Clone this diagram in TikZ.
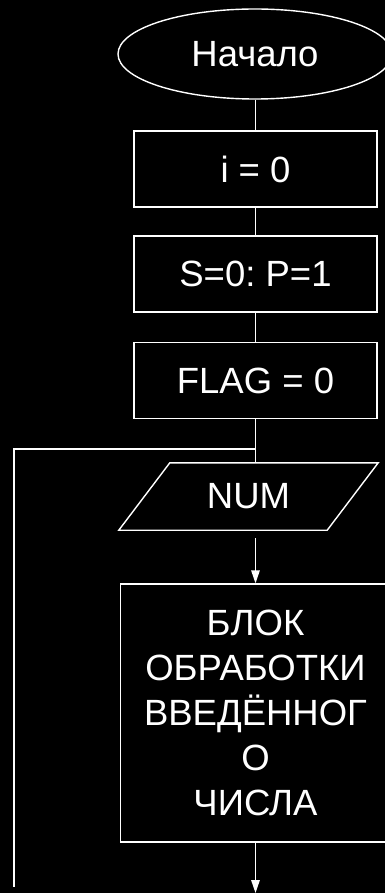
\documentclass[tikz,border=0pt]{standalone}
\usepackage{fontspec}
\setmainfont{Liberation Sans}
\usetikzlibrary{shapes.geometric,arrows.meta}
\frenchspacing
\begin{document}
\begin{tikzpicture}[x=1pt,y=-1pt,
  every node/.style={text=white,font=\fontsize{36.5}{45}\selectfont,inner sep=0pt},
  line/.style={draw=white,line width=1.4pt},
  proc/.style={line,rectangle,minimum width=243,minimum height=76},
  arr/.style={line,-{Triangle[length=13pt,width=8.5pt]}}]
\fill[black] (0,0) rectangle (385,893);
\useasboundingbox (0,0) rectangle (385,893);
\node[line,ellipse,minimum width=274,minimum height=90] (start) at (255,54) {Начало};
\node[proc] (i) at (255.5,169) {i = 0};
\node[proc] (s) at (255.5,274) {S=0:\ P=1};
\node[proc] (f) at (255.5,380.5) {FLAG = 0};
\node[rectangle,minimum width=259,minimum height=67] (num) at (248.5,496.5) {NUM};
\draw[line] ([xshift=51pt]num.north west) -- (num.north east) -- ([xshift=-51pt]num.south east) -- (num.south west) -- cycle;
\node[line,rectangle,minimum width=270,minimum height=258,align=center] (blk) at (255.5,713) {БЛОК\\ОБРАБОТКИ\\ВВЕДЁННОГ\\О\\ЧИСЛА};
\draw[line] (start.south -| i.north) -- (i.north);
\draw[line] (i.south) -- (s.north);
\draw[line] (s.south) -- (f.north);
\draw[line] (f.south) -- (f.south |- num.north);
\coordinate (j) at (255.5,449);
\coordinate (loopend) at (14,887);
\draw[line] (j) -| (loopend);
\draw[arr] ([yshift=-8pt]num.south -| blk.north) -- (blk.north);
\coordinate (endpt) at (255.5,893);
\draw[arr] (blk.south) -- (endpt);
\end{tikzpicture}
\end{document}
